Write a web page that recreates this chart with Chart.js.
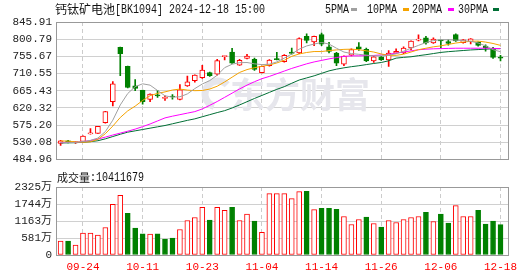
<!DOCTYPE html>
<html>
<head>
<meta charset="utf-8">
<script src="https://cdn.jsdelivr.net/npm/chart.js@4"></script>
<style>
  html, body { margin: 0; padding: 0; background: #fff; }
  #wrap { position: relative; width: 530px; height: 276px; overflow: hidden; }
  #k { position: absolute; left: 0; top: 0; }
  #v { position: absolute; left: 0; top: 170px; }
</style>
</head>
<body>
<div id="wrap">
  <canvas id="k" width="530" height="170"></canvas>
  <canvas id="v" width="530" height="106"></canvas>
</div>
<script>
/* ---- datos ---- */
const dates = ['09-19','09-20','09-23','09-24','09-25','09-26','09-27','09-30',
  '10-08','10-09','10-10','10-11','10-14','10-15','10-16','10-17','10-18','10-21','10-22','10-23',
  '10-24','10-25','10-28','10-29','10-30','10-31','11-01','11-04','11-05','11-06','11-07','11-08',
  '11-11','11-12','11-13','11-14','11-15','11-18','11-19','11-20','11-21','11-22','11-25','11-26',
  '11-27','11-28','11-29','12-02','12-03','12-04','12-05','12-06','12-09','12-10','12-11','12-12',
  '12-13','12-16','12-17','12-18'];
const xTickLabels = ['09-24','10-11','10-23','11-04','11-14','11-26','12-06','12-18'];

const opens  = [527,534,529,532,552,553.4,581.6,636.4,779.4,729.5,678,666.4,642.3,654.7,645.4,651,642.3,678,692.1,699.6,
  712.9,708.7,755,766.9,732.8,750.3,747.8,712.9,731.2,749,742,766.9,764.4,808.5,793.5,812.6,781,764.4,735.3,758.6,
  781,774.4,743.6,754.4,746.1,764.4,764.4,777.7,798,804.3,791,797.7,794.4,812.6,791.8,794.4,792.7,782.7,776.9,752.8];
const highs  = [535,535,532,547,566,572,611.5,689.6,780,730,694.6,667,657,666.4,652.2,655,681.3,703.8,707,732,
  714.6,747.8,756.5,776.9,747.8,761.1,751.1,730,747.5,766,760,777.7,804.3,815.1,809,816.8,792.7,766.1,757,775.2,
  791.8,777.7,755,756,771,775.2,781,796.5,812,808.5,804.3,798.5,799.3,815.1,800,802.5,793.5,786,779.4,758.6];
const lows   = [522,528,527,531,551,553,580,625.6,704.6,673,665.5,629.8,636.4,648.1,639.8,643,641,677,688,698,
  702.9,706,746,737,732,749,718.7,712,730,746,740.3,761.1,762.8,791,783.5,783.5,764.4,731.2,731.2,757,
  771,742,739.5,745,729.5,763,763,772.7,796,787.7,789.4,777,785.2,795,790,788.6,782.7,769.4,750.3,743.6];
const closes = [534,530,531,546,553.5,571.6,610.7,683.8,762.8,673.8,671.4,636.4,656.4,651.4,646.4,649,668,688.8,706.3,719.5,
  704.6,744.5,756,737.8,745.3,756.1,721.2,729.5,746.1,747,758.6,763.6,802.6,797.7,808.5,787.7,768.6,737.8,756.1,773.6,
  775.2,743.6,754.4,746.1,764.4,768.6,777.7,796,801,791,801,796.5,789.4,796,799.3,801.8,784.4,777.7,752.8,751.1];

const ma5  = [528.5,529,529.5,531.8,535,541,558,588,628,658,676,683.5,680,666,652,648.5,649.5,657,671,683,
  692,706,726,735,739,739.5,736,734,735,741,751,762,774.5,783,788,792,788,777,767,763,
  761,759,757,757,758.5,762.5,769,777,784.5,792,797,799.4,799.4,798.2,797,795.2,790.7,783.2,773.2,767.8];
const ma10 = [533.5,533,531,530,531.3,537.6,552.5,572.5,595,612.4,624.9,639.8,652.3,658.5,662.3,667.2,669.7,667,665.5,666,
  669.7,677.2,688.4,700.9,713.4,720.9,725.9,729.5,733,738.3,745.3,755.8,762,765.8,768.3,768.3,770.8,772.6,774,774.5,
  773.2,770.2,767,762,758.3,758.3,761.3,767,773.2,777,780.7,783.2,787,790.7,793.2,795.2,795.7,793.2,789.5,784.5];
const ma20 = [529.5,529.5,530,531.5,534.5,538.5,543.5,549,554,559,564.5,571,578,586,594,598.5,602.5,606.5,610.5,617.5,
  627,637,648,659,670,680,689,697,703,710,717,724,730,736,741,745,749,752.5,755.5,757,
  757,757.5,758,759.5,761,764,767,770,773,774.5,775.5,776,776.5,777,777,777,777,777,776.5,776];
const ma30 = [528.3,528.5,528.8,530,531.5,534,539,545,551,556.5,560,563.5,567,570.5,574,578.5,583,587.5,591.5,597,
  602.5,608,613,620,628,636.5,645,653,661,669,676,685,693.5,699,704.5,711,717.5,722,725.5,728.5,
  731,734,737,739.5,744,751,753,754.5,757.5,760,763,766,768,769.5,771,772.5,773.5,774.5,775.5,776];

// volumen en 万; color r/g según el cierre anterior
const volumes = [476,476,340,748,748,680,941,1735,2041,1429,918,726,714,726,544,578,873,1179,1281,1633,
  1191,1633,1531,1633,1179,1395,1157,771,2098,2098,2098,1928,2166,2177,1554,1599,1599,1565,1315,1043,
  1213,1293,1077,953,1179,1111,1213,1281,1315,1463,1145,1395,1089,1690,1315,1315,1531,1055,1157,1041];
const volColor = 'rgrrrrrrrgggrgggrrrrgrrgrrgrrrrrrgrgggrrrgrgrrrrrgrggrrrgggg';

const priceTicks = [484.96, 530.08, 575.20, 620.32, 665.43, 710.55, 755.67, 800.79, 845.91];
const volTicks = [0, 581.25, 1162.5, 1743.75, 2325];
const volTickLabels = ['0', '581万', '1163万', '1744万', '2325万'];

const titleName = '钙钛矿电池';
const titleRest = '[BK1094] 2024-12-18 15:00';
const volTitle = '成交量';
const volTitleNum = ':10411679';
const maNames = ['5PMA', '10PMA', '20PMA', '30PMA'];

/* ---- estilos ---- */
const RED = '#ff0000';
const GREEN = '#008000';
const MA_COLORS = ['#a0a0a0', '#f5a300', '#ff00ff', '#006f35'];
const MONO = "'Liberation Mono', 'Noto Sans CJK SC', monospace";
const CJK = "'Noto Sans CJK SC', sans-serif";
const X_MIN = -0.62, X_MAX = 60.14;

const idx = dates.map((d, i) => i);
const isUp = i => closes[i] >= opens[i];

// texto con escala horizontal (la fuente original es más estrecha)
function txt(ctx, s, x, y, font, color, sx = 1, align = 'left') {
  ctx.save();
  ctx.font = font;
  ctx.fillStyle = color;
  ctx.textBaseline = 'middle';
  ctx.textAlign = align;
  ctx.translate(x, y);
  ctx.scale(sx, 1);
  ctx.fillText(s, 0, 0);
  const w = ctx.measureText(s).width * sx;
  ctx.restore();
  return x + w;
}

function frame(chart) {
  const { ctx, chartArea: a } = chart;
  ctx.save();
  ctx.strokeStyle = '#999';
  ctx.lineWidth = 1;
  ctx.strokeRect(Math.round(a.left) + 0.5, Math.round(a.top) + 0.5,
    Math.round(a.right - a.left) - 1, Math.round(a.bottom - a.top));
  ctx.restore();
}

const xCommon = {
  type: 'linear', min: X_MIN, max: X_MAX, offset: false,
  afterBuildTicks: s => { s.ticks = xTickLabels.map(l => ({ value: dates.indexOf(l) })); },
  grid: { color: '#cccccc', drawTicks: false, offset: false },
  border: { display: false, dash: [4, 3] },
};

/* ---- gráfico de velas ---- */
const kDecor = {
  id: 'kDecor',
  beforeDatasetsDraw(chart) {
    const ctx = chart.ctx;
    ctx.save();
    // marca de agua
    ctx.strokeStyle = '#e6e6ec';
    ctx.lineWidth = 7;
    ctx.beginPath();
    ctx.arc(218, 94, 13, Math.PI * 0.6, Math.PI * 1.75);
    ctx.stroke();
    ctx.fillStyle = '#e6e6ec';
    ctx.font = "bold 35px " + CJK;
    ctx.textBaseline = 'middle';
    ctx.fillText('东方财富', 230, 95);
    ctx.restore();
  },
  afterDraw(chart) {
    const ctx = chart.ctx;
    frame(chart);
    let x = txt(ctx, titleName, 55, 9.5, '12px ' + CJK, '#111');
    txt(ctx, titleRest, x, 9.5, '12px ' + MONO, '#111', 0.833);
    const lx = [325, 367, 412, 458], mx = [351, 403, 448, 493];
    maNames.forEach((n, i) => {
      txt(ctx, n, lx[i], 9.5, '12px ' + MONO, '#111', 0.833);
      ctx.fillStyle = MA_COLORS[i];
      ctx.fillRect(mx[i], 8, 6, 3);
    });
  }
};

const maDataset = (data, i) => ({
  type: 'line', label: maNames[i], order: 0,
  data: data.map((v, j) => ({ x: j, y: v })),
  borderColor: MA_COLORS[i], borderWidth: 1, pointRadius: 0, tension: 0,
});

new Chart(document.getElementById('k'), {
  type: 'bar',
  data: {
    datasets: [
      maDataset(ma5, 0), maDataset(ma10, 1), maDataset(ma20, 2), maDataset(ma30, 3),
      {
        label: 'cuerpo', order: 1, grouped: false,
        data: idx.map(i => ({ x: i, y: [opens[i], closes[i]] })),
        backgroundColor: idx.map(i => isUp(i) ? '#ffffff' : GREEN),
        borderColor: idx.map(i => isUp(i) ? RED : GREEN),
        borderWidth: 1, borderSkipped: false, barThickness: 5, minBarLength: 1,
      },
      {
        label: 'mecha', order: 2, grouped: false,
        data: idx.map(i => ({ x: i, y: [lows[i], highs[i]] })),
        backgroundColor: idx.map(i => isUp(i) ? RED : GREEN),
        borderWidth: 0, barThickness: 1, minBarLength: 1,
      },
    ]
  },
  options: {
    responsive: false, animation: false, devicePixelRatio: 1,
    layout: { padding: { left: 0, right: 21, top: 22, bottom: 5 } },
    plugins: { legend: { display: false }, tooltip: { enabled: false } },
    scales: {
      x: Object.assign({}, xCommon, {
        ticks: { display: false },
        afterFit: s => { s.height = 0; },
      }),
      y: {
        min: priceTicks[0], max: priceTicks[priceTicks.length - 1],
        afterBuildTicks: s => { s.ticks = priceTicks.map(v => ({ value: v })); },
        afterFit: s => { s.width = 56; },
        grid: { color: '#d0d0d0', drawTicks: false },
        border: { display: false },
        ticks: {
          padding: 4, color: '#222', font: { family: MONO, size: 11 },
          callback: v => v.toFixed(2),
        },
      },
    },
  },
  plugins: [kDecor],
});

/* ---- volumen ---- */
const vDecor = {
  id: 'vDecor',
  afterDraw(chart) {
    const ctx = chart.ctx;
    frame(chart);
    const x = txt(ctx, volTitle, 57, 7.5, '11px ' + CJK, '#111');
    txt(ctx, volTitleNum, x, 7.5, '12px ' + MONO, '#111', 0.833);
  }
};

new Chart(document.getElementById('v'), {
  type: 'bar',
  data: {
    datasets: [{
      label: '成交量', grouped: false,
      data: idx.map(i => ({ x: i, y: volumes[i] })),
      backgroundColor: idx.map(i => volColor[i] === 'r' ? '#ffffff' : GREEN),
      borderColor: idx.map(i => volColor[i] === 'r' ? RED : GREEN),
      borderWidth: 1, borderSkipped: false, barThickness: 5,
    }]
  },
  options: {
    responsive: false, animation: false, devicePixelRatio: 1,
    layout: { padding: { left: 0, right: 21, top: 17, bottom: 0 } },
    plugins: { legend: { display: false }, tooltip: { enabled: false } },
    scales: {
      x: Object.assign({}, xCommon, {
        afterFit: s => { s.height = 21; },
        ticks: {
          color: RED, padding: 5, autoSkip: false, maxRotation: 0, minRotation: 0,
          font: { family: MONO, size: 11 },
          callback: v => dates[v],
        },
      }),
      y: {
        min: 0, max: volTicks[volTicks.length - 1],
        afterBuildTicks: s => { s.ticks = volTicks.map(v => ({ value: v })); },
        afterFit: s => { s.width = 56; },
        grid: { color: '#d0d0d0', drawTicks: false },
        border: { display: false },
        ticks: {
          padding: 4, color: '#222', font: { family: MONO, size: 11 },
          callback: (v, i) => volTickLabels[i],
        },
      },
    },
  },
  plugins: [vDecor],
});
</script>
</body>
</html>
